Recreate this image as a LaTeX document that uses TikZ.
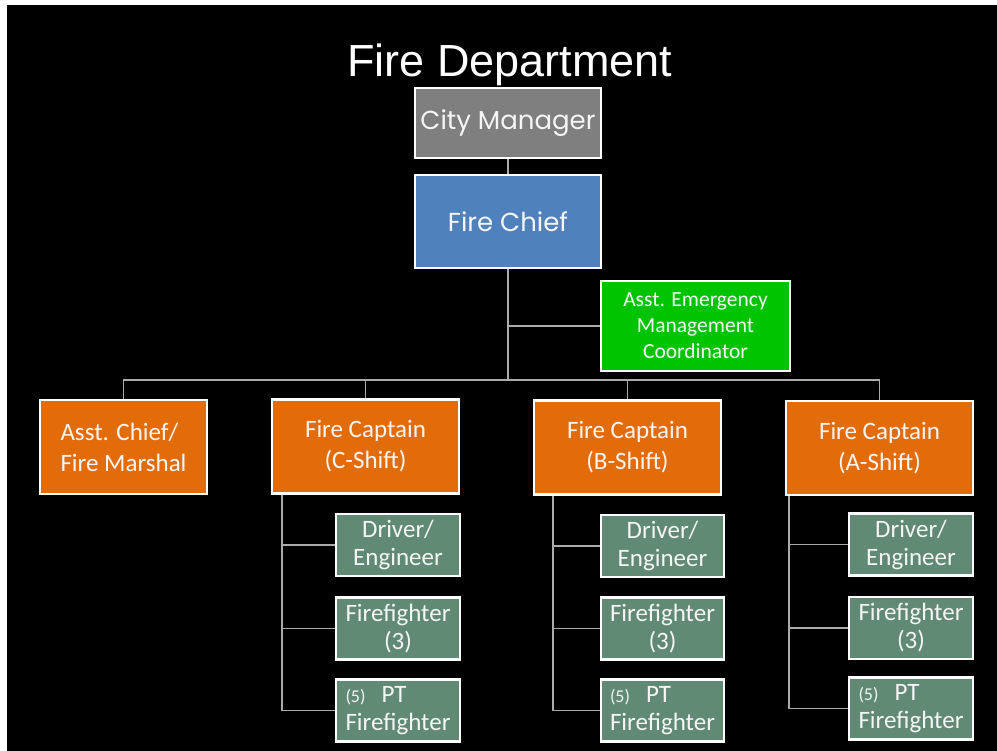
\documentclass[tikz,border=0pt]{standalone}
\usepackage{fontspec}
\setmainfont{Carlito}
\newfontfamily\titlefont{Liberation Sans}
\newfontfamily\geofont{Poppins}
\definecolor{cmgray}{RGB}{127,127,127}
\definecolor{chiefblue}{RGB}{79,129,189}
\definecolor{emgreen}{RGB}{0,196,0}
\definecolor{capor}{RGB}{227,108,10}
\definecolor{crewgr}{RGB}{96,138,116}
\definecolor{linkgray}{RGB}{170,170,170}
\definecolor{txt}{RGB}{245,245,245}
\tikzset{
  box/.style={draw=white, line width=2.2pt, inner sep=0pt, text=txt, align=center},
  topbox/.style={box, minimum width=186pt, font=\geofont\fontsize{26}{30}\selectfont},
  greenbox/.style={box, fill=emgreen, minimum width=189pt, minimum height=90pt, font=\fontsize{21.5}{26}\selectfont},
  capbox/.style={box, fill=capor, minimum width=187pt, minimum height=94pt, font=\fontsize{25}{31}\selectfont},
  crewbox/.style={box, fill=crewgr, minimum width=124pt, minimum height=62pt, font=\fontsize{25}{28}\selectfont},
  link/.style={draw=linkgray, line width=1.4pt}
}
\newcommand{\smallnum}[1]{{\fontsize{18}{18}\selectfont #1}}
\begin{document}
\begin{tikzpicture}[x=1pt,y=-1pt]
\useasboundingbox (0,0) rectangle (997,751);
\fill[white] (0,0) rectangle (997,751);
\fill[black] (7,5) rectangle (997,751);

% title
\node[text=white, font=\titlefont\fontsize{45}{45}\selectfont, anchor=base, inner sep=0pt] (title) at (510,77) {Fire Department};

% top of the chain of command
\node[topbox, fill=cmgray, minimum height=70pt] (cm) at (508,123) {\raisebox{-2pt}{City Manager}};
\node[topbox, fill=chiefblue, minimum height=93pt] (chief) at (508,221.5) {Fire Chief};
\node[greenbox] (aemc) at (695.5,326) {Asst. Emergency\\Management\\Coordinator};

% second level
\node[capbox, minimum width=167pt, align=left] (acm) at (123.5,447) {Asst. Chief/\\Fire Marshal};
\node[capbox] (capC) at (365.5,446.5) {Fire Captain\\(C-Shift)};
\node[capbox] (capB) at (627.5,447.5) {Fire Captain\\(B-Shift)};
\node[capbox] (capA) at (879.5,448) {Fire Captain\\(A-Shift)};

% crews under C-Shift
\node[crewbox] (dC) at (398,545) {Driver/\\Engineer};
\node[crewbox] (fC) at (398,628.5) {Firefighter\\(3)};
\node[crewbox, align=left] (pC) at (398,710.5) {\smallnum{(5)}\hspace{16pt}PT\\Firefighter};
% crews under B-Shift
\node[crewbox, minimum width=123pt] (dB) at (662.5,546) {Driver/\\Engineer};
\node[crewbox, minimum width=123pt] (fB) at (662.5,628.5) {Firefighter\\(3)};
\node[crewbox, minimum width=123pt, align=left] (pB) at (662.5,710.5) {\smallnum{(5)}\hspace{16pt}PT\\Firefighter};
% crews under A-Shift
\node[crewbox] (dA) at (911,544.5) {Driver/\\Engineer};
\node[crewbox] (fA) at (911,628) {Firefighter\\(3)};
\node[crewbox, align=left] (pA) at (911,708.5) {\smallnum{(5)}\hspace{16pt}PT\\Firefighter};

% connectors
\coordinate (bus) at (508,380);
\draw[link] (cm.south) -- (chief.north);
\draw[link] (chief.south) -- (bus);
\draw[link] (chief.south |- aemc.west) -- (aemc.west);
\draw[link] (acm.north) |- (bus);
\draw[link] (capA.north) |- (bus);
\draw[link] (capC.north) -- (capC.north |- bus);
\draw[link] (capB.north) -- (capB.north |- bus);

\coordinate (trC) at ([xshift=11pt]capC.south west);
\coordinate (trB) at ([xshift=20pt]capB.south west);
\coordinate (trA) at ([xshift=4pt]capA.south west);
\foreach \s in {C,B,A}{
  \draw[link] (tr\s) |- (p\s.west);
  \draw[link] (tr\s |- d\s.west) -- (d\s.west);
  \draw[link] (tr\s |- f\s.west) -- (f\s.west);
}
\end{tikzpicture}
\end{document}
